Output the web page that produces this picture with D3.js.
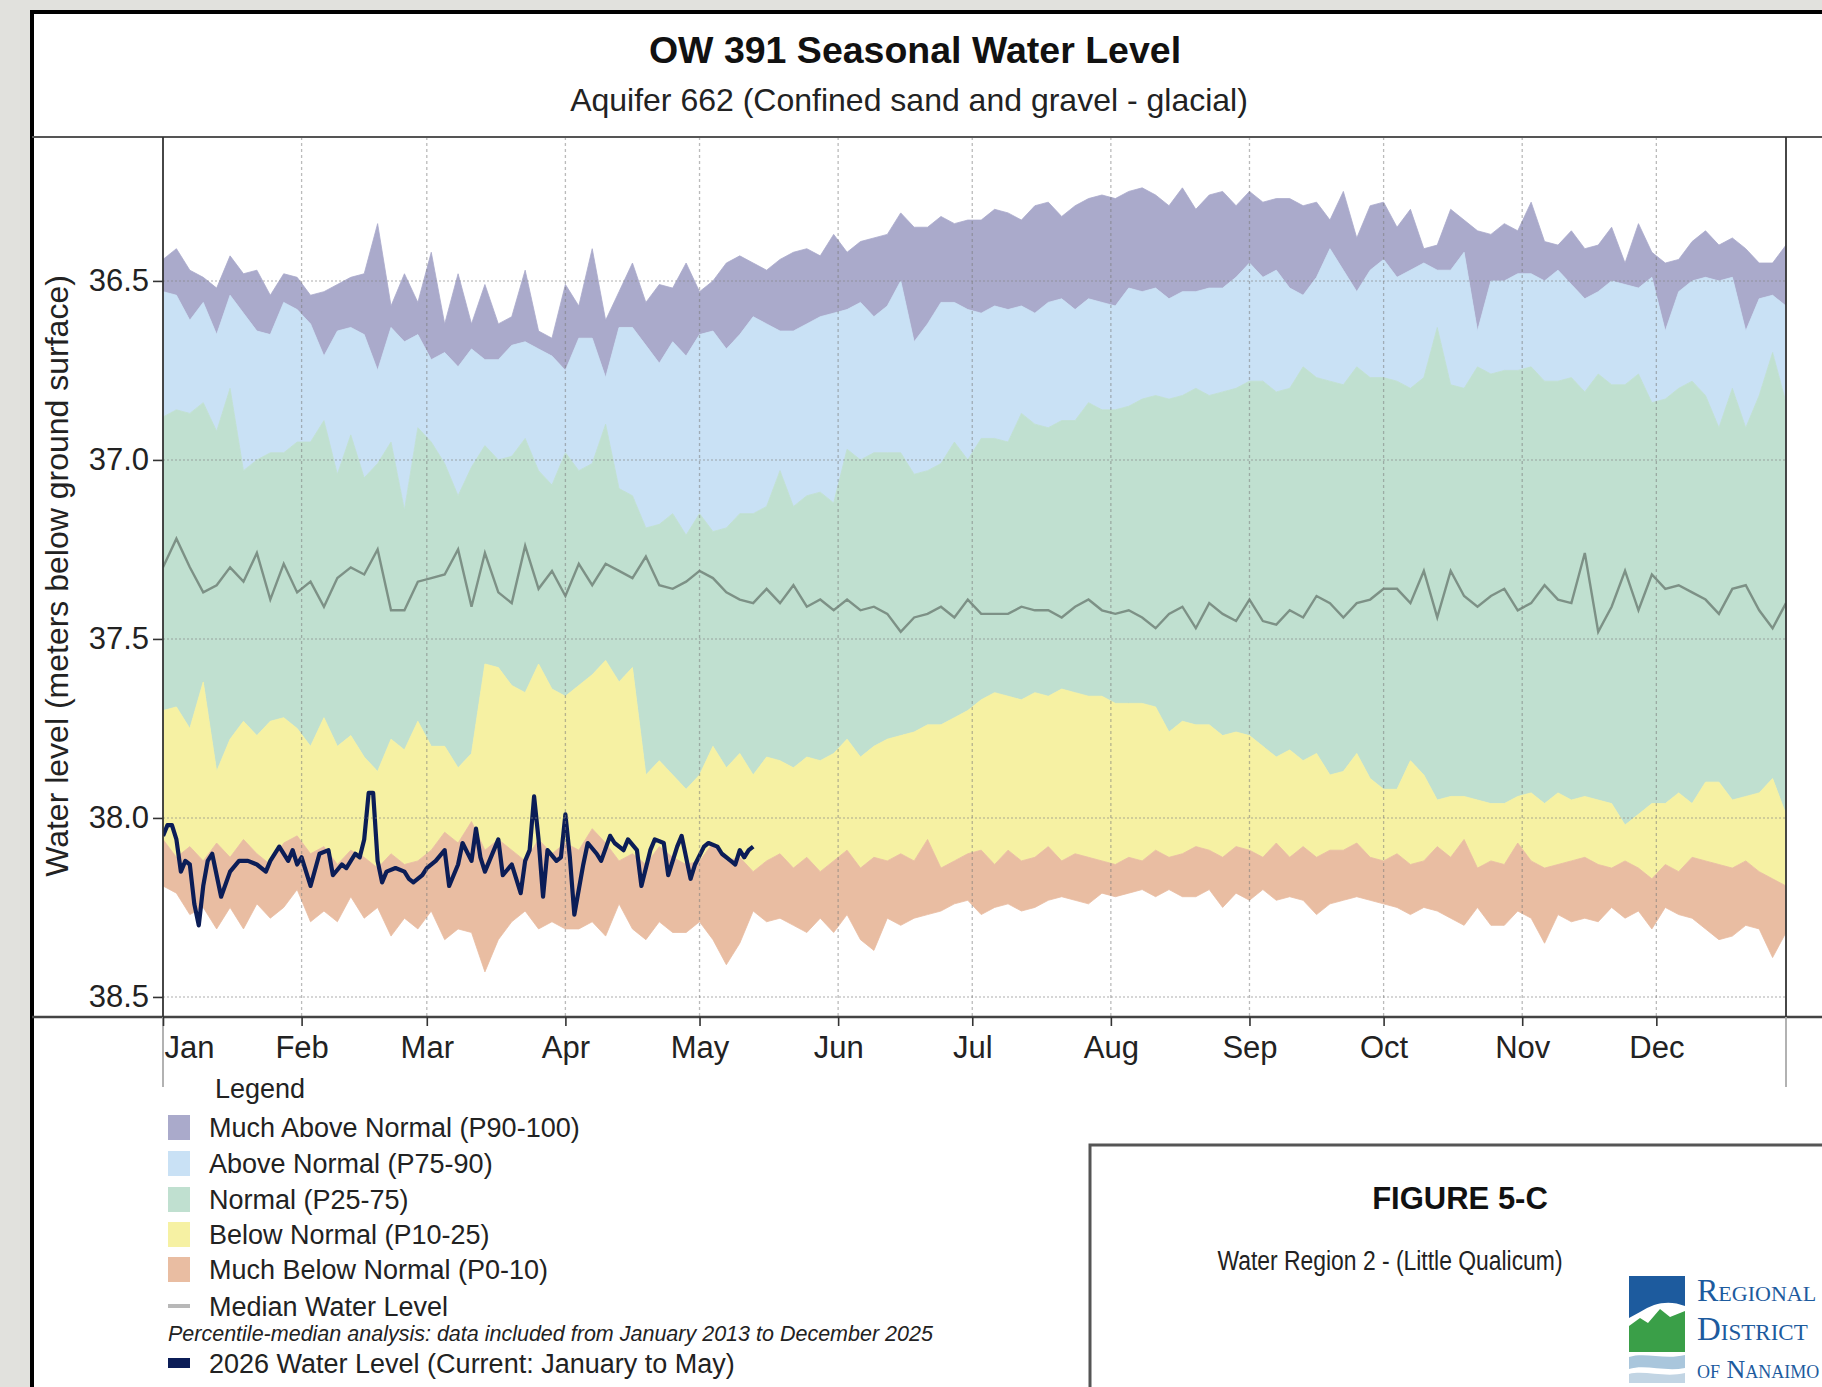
<!DOCTYPE html>
<html><head><meta charset="utf-8">
<script src="https://cdn.jsdelivr.net/npm/d3@7"></script>
<style>
html,body{margin:0;padding:0;background:#e1e1dd;}
svg{display:block;font-family:"Liberation Sans",Arial,Helvetica,sans-serif;}
</style></head>
<body><svg id="chart" width="1822" height="1387"></svg>
<script>
// ---------------- DATA ----------------
const months = ["Jan","Feb","Mar","Apr","May","Jun","Jul","Aug","Sep","Oct","Nov","Dec"];
const monthStartDays = [0,31,59,90,120,151,181,212,243,273,304,334];
const yTicks = [36.5, 37.0, 37.5, 38.0, 38.5];
const dayStep = 3; // percentile series sampled every 3 days (day-of-year 0..363)

// Percentile boundaries (m below ground surface)
const p100 = [36.44,36.41,36.47,36.49,36.52,36.43,36.48,36.47,36.54,36.48,36.49,36.54,36.53,36.51,36.49,36.48,36.34,36.57,36.48,36.56,36.42,36.62,36.48,36.62,36.51,36.62,36.60,36.47,36.64,36.66,36.51,
 36.57,36.41,36.61,36.53,36.45,36.56,36.51,36.52,36.45,36.53,36.50,36.45,36.43,36.45,36.47,36.44,36.42,36.41,36.43,36.37,36.42,36.39,36.38,36.37,36.31,36.35,36.35,36.32,36.34,36.33,
 36.33,36.30,36.31,36.33,36.29,36.28,36.32,36.29,36.27,36.26,36.27,36.25,36.24,36.26,36.29,36.24,36.30,36.26,36.25,36.29,36.25,36.28,36.27,36.27,36.29,36.28,36.33,36.25,36.38,36.29,36.28,
 36.35,36.30,36.41,36.40,36.30,36.33,36.36,36.37,36.34,36.36,36.28,36.39,36.40,36.36,36.41,36.40,36.35,36.45,36.34,36.42,36.45,36.44,36.39,36.36,36.40,36.38,36.41,36.45,36.45,36.40];
const p90 = [36.53,36.54,36.61,36.56,36.65,36.54,36.59,36.64,36.65,36.56,36.58,36.62,36.71,36.64,36.63,36.65,36.75,36.63,36.67,36.65,36.72,36.70,36.74,36.69,36.72,36.72,36.68,36.67,36.69,36.71,36.75,
 36.66,36.66,36.77,36.63,36.63,36.68,36.73,36.67,36.71,36.65,36.64,36.69,36.65,36.60,36.62,36.64,36.64,36.62,36.60,36.59,36.58,36.56,36.60,36.57,36.50,36.67,36.62,36.56,36.56,36.58,
 36.59,36.57,36.58,36.57,36.59,36.56,36.55,36.58,36.55,36.56,36.57,36.52,36.53,36.52,36.55,36.53,36.53,36.52,36.52,36.49,36.45,36.49,36.47,36.52,36.54,36.49,36.41,36.47,36.53,36.47,36.44,
 36.49,36.47,36.45,36.47,36.47,36.42,36.64,36.50,36.50,36.48,36.48,36.50,36.47,36.51,36.55,36.53,36.50,36.51,36.52,36.49,36.64,36.53,36.50,36.49,36.50,36.49,36.64,36.55,36.54,36.57];
const p75 = [36.88,36.86,36.87,36.84,36.92,36.80,37.03,37.00,36.98,36.98,36.95,36.95,36.89,37.04,36.93,37.05,37.01,36.95,37.14,36.91,36.95,37.01,37.10,37.02,36.96,37.00,36.99,36.94,37.03,37.07,36.98,
 37.03,37.01,36.90,37.08,37.10,37.19,37.18,37.15,37.21,37.15,37.20,37.19,37.15,37.15,37.13,37.03,37.13,37.10,37.09,37.12,36.97,37.00,36.98,36.98,36.98,37.04,37.03,37.01,36.95,37.00,
 36.94,36.94,36.95,36.87,36.90,36.91,36.89,36.89,36.84,36.86,36.86,36.85,36.83,36.82,36.83,36.82,36.80,36.82,36.81,36.80,36.78,36.78,36.81,36.80,36.74,36.77,36.78,36.79,36.74,36.77,36.77,
 36.78,36.80,36.77,36.63,36.79,36.80,36.74,36.76,36.75,36.75,36.74,36.78,36.78,36.77,36.81,36.76,36.79,36.79,36.76,36.84,36.83,36.80,36.78,36.82,36.91,36.80,36.91,36.82,36.70,36.84];
const p25 = [37.70,37.69,37.75,37.62,37.87,37.78,37.73,37.77,37.73,37.72,37.75,37.80,37.72,37.80,37.77,37.83,37.87,37.78,37.81,37.73,37.80,37.80,37.86,37.82,37.57,37.58,37.63,37.65,37.57,37.64,37.66,
 37.63,37.60,37.56,37.62,37.58,37.88,37.84,37.88,37.92,37.88,37.80,37.86,37.82,37.88,37.83,37.84,37.86,37.83,37.84,37.82,37.78,37.83,37.80,37.78,37.77,37.76,37.74,37.74,37.72,37.70,
 37.67,37.65,37.66,37.67,37.65,37.66,37.64,37.65,37.66,37.66,37.68,37.68,37.68,37.69,37.76,37.73,37.74,37.74,37.77,37.76,37.77,37.80,37.83,37.81,37.84,37.82,37.88,37.87,37.82,37.89,37.92,
 37.92,37.84,37.88,37.95,37.94,37.94,37.95,37.96,37.96,37.94,37.93,37.96,37.93,37.95,37.94,37.95,37.96,38.02,37.99,37.96,37.96,37.93,37.96,37.90,37.90,37.95,37.94,37.93,37.89,37.99];
const p10 = [38.06,38.11,38.08,38.12,38.07,38.11,38.06,38.10,38.13,38.07,38.05,38.10,38.08,38.13,38.09,38.11,38.14,38.10,38.13,38.12,38.09,38.04,38.07,38.01,38.09,38.06,38.09,38.12,38.06,38.10,38.07,
 38.09,38.03,38.07,38.12,38.10,38.13,38.08,38.11,38.13,38.12,38.07,38.12,38.11,38.15,38.12,38.10,38.14,38.11,38.15,38.12,38.09,38.14,38.11,38.12,38.10,38.12,38.06,38.14,38.12,38.10,
 38.09,38.13,38.09,38.12,38.11,38.08,38.12,38.10,38.11,38.12,38.13,38.11,38.12,38.09,38.11,38.10,38.08,38.09,38.11,38.08,38.09,38.11,38.07,38.11,38.08,38.11,38.09,38.09,38.07,38.11,38.12,
 38.10,38.13,38.12,38.08,38.11,38.06,38.14,38.12,38.13,38.07,38.12,38.14,38.13,38.12,38.11,38.13,38.14,38.12,38.14,38.17,38.13,38.15,38.11,38.12,38.13,38.14,38.12,38.15,38.17,38.19];
const p0 = [38.19,38.21,38.27,38.25,38.31,38.25,38.31,38.24,38.28,38.25,38.20,38.29,38.26,38.29,38.22,38.28,38.25,38.33,38.28,38.31,38.26,38.34,38.31,38.32,38.43,38.34,38.29,38.26,38.31,38.29,38.31,
 38.31,38.29,38.33,38.24,38.31,38.34,38.29,38.32,38.32,38.29,38.34,38.41,38.35,38.26,38.29,38.28,38.30,38.32,38.28,38.32,38.27,38.34,38.37,38.28,38.30,38.28,38.27,38.26,38.24,38.23,
 38.27,38.25,38.24,38.26,38.25,38.23,38.22,38.23,38.24,38.21,38.22,38.21,38.20,38.22,38.20,38.22,38.22,38.20,38.25,38.21,38.23,38.20,38.23,38.22,38.23,38.27,38.24,38.23,38.22,38.23,38.24,
 38.25,38.27,38.25,38.26,38.28,38.30,38.25,38.30,38.30,38.26,38.28,38.35,38.27,38.29,38.28,38.29,38.25,38.28,38.26,38.31,38.25,38.27,38.28,38.31,38.34,38.33,38.30,38.31,38.39,38.32];
const medianLevel = [37.30,37.22,37.30,37.37,37.35,37.30,37.34,37.26,37.39,37.29,37.37,37.34,37.41,37.33,37.30,37.32,37.25,37.42,37.42,37.34,37.33,37.32,37.25,37.41,37.26,37.37,37.40,37.24,37.36,37.31,37.38,
 37.29,37.35,37.29,37.31,37.33,37.27,37.35,37.36,37.34,37.31,37.33,37.37,37.39,37.40,37.36,37.40,37.35,37.41,37.39,37.42,37.39,37.42,37.41,37.43,37.48,37.44,37.43,37.41,37.44,37.39,
 37.43,37.43,37.43,37.41,37.42,37.42,37.44,37.41,37.39,37.42,37.43,37.42,37.44,37.47,37.43,37.41,37.47,37.40,37.43,37.45,37.39,37.45,37.46,37.42,37.44,37.38,37.40,37.44,37.40,37.39,37.36,
 37.36,37.40,37.31,37.44,37.31,37.38,37.41,37.38,37.36,37.42,37.40,37.35,37.39,37.40,37.26,37.48,37.41,37.31,37.42,37.32,37.36,37.35,37.37,37.39,37.43,37.36,37.35,37.42,37.47,37.40];

// 2026 observed water level (day-of-year, value)
const wl2026Days = [0,1,2,3,4,5,6,7,8,9,10,11,12,13,15,17,19,21,23,24,26,28,29,30,31,33,35,37,38,40,41,43,44,45,46,47,48,49,50,52,54,55,56,58,59,61,63,64,66,67,69,70,71,72,73,75,76,78,80,81,82,83,84,85,86,88,89,90,91,92,94,95,97,98,100,101,103,104,106,107,109,110,112,113,115,116,118,119,121,122,124,125,127,128,129,130,131,132];
const wl2026Values = [38.05,38.02,38.02,38.06,38.15,38.12,38.13,38.24,38.30,38.19,38.12,38.10,38.16,38.22,38.15,38.12,38.12,38.13,38.15,38.12,38.08,38.12,38.09,38.13,38.11,38.19,38.10,38.09,38.16,38.13,38.14,38.10,38.11,38.06,37.93,37.93,38.12,38.18,38.15,38.14,38.15,38.17,38.18,38.16,38.14,38.12,38.09,38.19,38.13,38.07,38.12,38.03,38.11,38.15,38.12,38.06,38.16,38.13,38.21,38.12,38.09,37.94,38.06,38.22,38.09,38.12,38.11,37.99,38.11,38.27,38.13,38.07,38.10,38.12,38.05,38.07,38.09,38.06,38.09,38.19,38.09,38.06,38.07,38.16,38.08,38.05,38.17,38.13,38.08,38.07,38.08,38.10,38.12,38.13,38.09,38.11,38.09,38.08];

const legendItems = [
  {label:"Much Above Normal (P90-100)", color:"#aaaacb"},
  {label:"Above Normal (P75-90)", color:"#c9e1f5"},
  {label:"Normal (P25-75)", color:"#c0e0d0"},
  {label:"Below Normal (P10-25)", color:"#f6f1a3"},
  {label:"Much Below Normal (P0-10)", color:"#e9bda2"}
];

// ---------------- DRAW ----------------
const svg = d3.select("#chart");
const W = 1822, H = 1387;
const plot = {left:163, right:1786, top:137, bottom:1017};

// page frame
svg.append("rect").attr("x",0).attr("y",0).attr("width",W).attr("height",H).attr("fill","#e1e1dd");
svg.append("rect").attr("x",32).attr("y",12).attr("width",1900).attr("height",1500)
  .attr("fill","#fff").attr("stroke","#000").attr("stroke-width",4);

// titles
svg.append("text").attr("x",915).attr("y",63).attr("text-anchor","middle")
  .attr("font-size",37.5).attr("font-weight","bold").attr("fill","#111").text("OW 391 Seasonal Water Level");
svg.append("text").attr("x",909).attr("y",111).attr("text-anchor","middle")
  .attr("font-size",32).attr("fill","#222").text("Aquifer 662 (Confined sand and gravel - glacial)");

const x = d3.scaleLinear().domain([0, 363]).range([plot.left, plot.right]);
const y = d3.scaleLinear().domain([36.098, 38.556]).range([plot.top, plot.bottom]);

const rows = p100.map((v,i)=>({day:i*dayStep, p100:v, p90:p90[i], p75:p75[i], p25:p25[i], p10:p10[i], p0:p0[i], med:medianLevel[i]}));

svg.append("defs").append("clipPath").attr("id","clip")
  .append("rect").attr("x",plot.left).attr("y",plot.top).attr("width",plot.right-plot.left).attr("height",plot.bottom-plot.top);

const g = svg.append("g").attr("clip-path","url(#clip)");
const bands = [
  {top:"p100", bot:"p90", color:legendItems[0].color},
  {top:"p90", bot:"p75", color:legendItems[1].color},
  {top:"p75", bot:"p25", color:legendItems[2].color},
  {top:"p25", bot:"p10", color:legendItems[3].color},
  {top:"p10", bot:"p0", color:legendItems[4].color}
];
bands.forEach(b=>{
  const area = d3.area().x(d=>x(d.day)).y0(d=>y(d[b.bot])).y1(d=>y(d[b.top]));
  g.append("path").datum(rows).attr("d",area).attr("fill",b.color).attr("stroke",b.color).attr("stroke-width",0.8);
});

// grid lines
const grid = svg.append("g");
yTicks.forEach(t=>{
  grid.append("line").attr("x1",plot.left).attr("x2",plot.right).attr("y1",y(t)).attr("y2",y(t))
    .attr("stroke","#888").attr("stroke-opacity",0.45).attr("stroke-width",1.5).attr("stroke-dasharray","2,2");
});
monthStartDays.slice(1).forEach(d=>{
  grid.append("line").attr("x1",x(d)).attr("x2",x(d)).attr("y1",plot.top).attr("y2",plot.bottom)
    .attr("stroke","#777").attr("stroke-opacity",0.5).attr("stroke-width",1.3).attr("stroke-dasharray","3,3");
});

// median line
g.append("path").datum(rows)
  .attr("d", d3.line().x(d=>x(d.day)).y(d=>y(d.med)))
  .attr("fill","none").attr("stroke","#7d9186").attr("stroke-width",2.4);

// 2026 line
const wl = wl2026Days.map((d,i)=>({day:d, v:wl2026Values[i]}));
g.append("path").datum(wl)
  .attr("d", d3.line().x(d=>x(d.day)).y(d=>y(d.v)))
  .attr("fill","none").attr("stroke","#0b1d57").attr("stroke-width",4.2).attr("stroke-linejoin","round");

// frame lines
svg.append("line").attr("x1",32).attr("x2",W).attr("y1",plot.top).attr("y2",plot.top).attr("stroke","#555").attr("stroke-width",2.2);
svg.append("line").attr("x1",32).attr("x2",W).attr("y1",plot.bottom).attr("y2",plot.bottom).attr("stroke","#444").attr("stroke-width",2.4);
[plot.left, plot.right].forEach(px=>{
  svg.append("line").attr("x1",px).attr("x2",px).attr("y1",plot.top).attr("y2",plot.bottom).attr("stroke","#333").attr("stroke-width",1.8);
  svg.append("line").attr("x1",px).attr("x2",px).attr("y1",plot.bottom).attr("y2",1087).attr("stroke","#aaa").attr("stroke-width",1.8);
});

// y axis ticks & labels
const yAxis = d3.axisLeft(y).tickValues(yTicks).tickFormat(d3.format(".1f")).tickSize(10).tickPadding(4);
const ya = svg.append("g").attr("transform",`translate(${plot.left},0)`).call(yAxis);
ya.select(".domain").remove();
ya.selectAll("line").attr("stroke","#333").attr("stroke-width",1.6);
ya.selectAll("text").attr("font-size",31).attr("fill","#222").attr("font-family","Liberation Sans, Arial, sans-serif");

// x axis ticks & labels
const xAxis = d3.axisBottom(x).tickValues(monthStartDays).tickFormat((d,i)=>months[i]).tickSize(9).tickPadding(8);
const xa = svg.append("g").attr("transform",`translate(0,${plot.bottom})`).call(xAxis);
xa.select(".domain").remove();
xa.selectAll("line").attr("stroke","#333").attr("stroke-width",1.6);
xa.selectAll("text").attr("font-size",31).attr("fill","#222").attr("font-family","Liberation Sans, Arial, sans-serif")
  .attr("dy","0.78em");
xa.selectAll(".tick").filter(d=>d===0).select("text").attr("text-anchor","start").attr("x",1);

// y axis title
svg.append("text").attr("transform","translate(68,576) rotate(-90)").attr("text-anchor","middle")
  .attr("font-size",32).attr("fill","#222").text("Water level (meters below ground surface)");

// legend
const lg = svg.append("g");
lg.append("text").attr("x",215).attr("y",1098).attr("font-size",27).attr("fill","#222").text("Legend");
const rowY = [1127,1163,1199,1234,1269];
legendItems.forEach((it,i)=>{
  lg.append("rect").attr("x",168).attr("y",rowY[i]-12).attr("width",22).attr("height",25).attr("fill",it.color);
  lg.append("text").attr("x",209).attr("y",rowY[i]+10).attr("font-size",27).attr("fill","#222").text(it.label);
});
lg.append("line").attr("x1",168).attr("x2",190).attr("y1",1306).attr("y2",1306).attr("stroke","#b8b8b8").attr("stroke-width",4);
lg.append("text").attr("x",209).attr("y",1316).attr("font-size",27).attr("fill","#222").text("Median Water Level");
lg.append("text").attr("x",168).attr("y",1341).attr("font-size",21.5).attr("font-style","italic").attr("fill","#222")
  .text("Percentile-median analysis: data included from January 2013 to December 2025");
lg.append("rect").attr("x",168).attr("y",1358).attr("width",22).attr("height",10).attr("fill","#0b1d57");
lg.append("text").attr("x",209).attr("y",1373).attr("font-size",27).attr("fill","#222").text("2026 Water Level (Current: January to May)");

// figure box
svg.append("rect").attr("x",1090).attr("y",1145).attr("width",800).attr("height",400)
  .attr("fill","#fff").attr("stroke","#555").attr("stroke-width",3);
svg.append("text").attr("x",1460).attr("y",1209).attr("text-anchor","middle").attr("font-size",31)
  .attr("font-weight","bold").attr("fill","#111").text("FIGURE 5-C");
svg.append("text").attr("x",1390).attr("y",1270).attr("text-anchor","middle").attr("font-size",27)
  .attr("textLength",345).attr("lengthAdjust","spacingAndGlyphs")
  .attr("fill","#222").text("Water Region 2 - (Little Qualicum)");

// logo
const logo = svg.append("g");
logo.append("path").attr("d","M1629,1276 L1685,1276 L1685,1306 C1670,1300 1655,1302 1640,1312 L1629,1318 Z").attr("fill","#1d5b9e");
logo.append("path").attr("d","M1629,1326 L1640,1318 L1648,1323 L1660,1309 L1670,1317 L1685,1311 L1685,1352 L1629,1352 Z").attr("fill","#3a9f48");
logo.append("path").attr("d","M1629,1357 C1645,1352 1665,1360 1685,1355 L1685,1368 C1665,1372 1645,1364 1629,1369 Z").attr("fill","#a9c6dc");
logo.append("path").attr("d","M1629,1374 C1645,1370 1665,1378 1685,1373 L1685,1383 L1629,1383 Z").attr("fill","#c2d5e4");
const serif = "Liberation Serif, 'DejaVu Serif', serif";
logo.append("text").attr("x",1697).attr("y",1301).attr("font-family",serif).attr("font-size",32)
  .attr("font-variant","small-caps").attr("fill","#1d5b9e").text("Regional");
logo.append("text").attr("x",1697).attr("y",1340).attr("font-family",serif).attr("font-size",33)
  .attr("font-variant","small-caps").attr("fill","#1d5b9e").text("District");
logo.append("text").attr("x",1697).attr("y",1378).attr("font-family",serif).attr("font-size",26)
  .attr("font-variant","small-caps").attr("fill","#1d5b9e").text("of Nanaimo");
</script>
</body></html>
